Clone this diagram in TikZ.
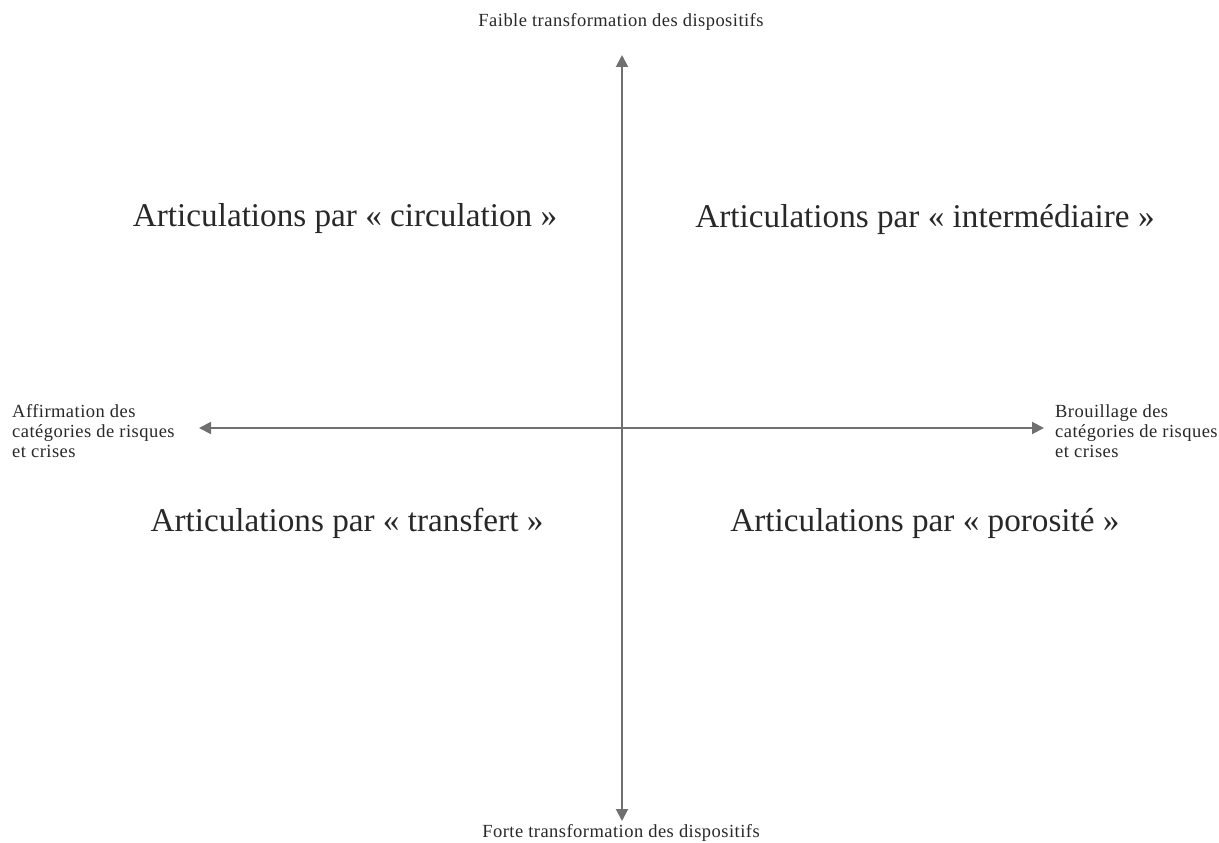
\documentclass[tikz,border=0pt]{standalone}
\usepackage{fontspec}
\setmainfont{Liberation Serif}
\newfontfamily\smallserif[LetterSpace=2.5]{Liberation Serif}
\usetikzlibrary{arrows.meta}
\definecolor{axisgray}{RGB}{112,112,112}
\definecolor{txt}{RGB}{40,40,40}
\tikzset{
  axis/.style={draw=axisgray, line width=2pt, {Triangle[length=12pt,width=12pt]}-{Triangle[length=12pt,width=12pt]}},
  quad/.style={font=\fontsize{33.2}{40}\selectfont, text=txt, inner sep=0pt},
  lab/.style={font=\smallserif\fontsize{18.5}{20}\selectfont, text=txt, inner sep=0pt},
  side/.style={lab, align=left, anchor=west}
}
\begin{document}
\begin{tikzpicture}[x=1pt,y=-1pt]
\useasboundingbox (0,0) rectangle (1219,843);
\node[lab] (top) at (621,22) {Faible transformation des dispositifs};
\node[lab] (bot) at (621,833) {Forte transformation des dispositifs};
\node[side] (left) at (12,431) {Affirmation des\\catégories de risques\\et crises};
\node[side] (right) at (1055,431) {Brouillage des\\catégories de risques\\et crises};
\coordinate (n) at (622,55);
\coordinate (s) at (622,821);
\coordinate (w) at (199,428);
\coordinate (e) at (1044,428);
\draw[axis] (s) -- (n);
\draw[axis] (w) -- (e);
\node[quad] (q1) at (345,219) {Articulations par « circulation »};
\node[quad] (q2) at (925,219) {Articulations par « intermédiaire »};
\node[quad] (q3) at (347,523) {Articulations par « transfert »};
\node[quad] (q4) at (925,523) {Articulations par « porosité »};
\end{tikzpicture}
\end{document}
